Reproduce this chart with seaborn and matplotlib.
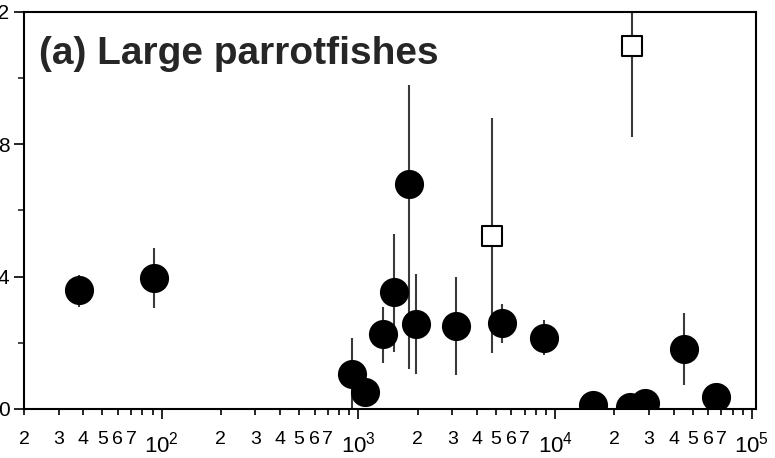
import numpy as np
import pandas as pd
import matplotlib
matplotlib.use("Agg")
import matplotlib.pyplot as plt
import matplotlib.ticker as mticker
import seaborn as sns

# values
x_vals = [38, 92, 930, 1080, 1340, 1520, 1800, 1970, 3140, 4800, 5380, 8800,
          15600, 24000, 28600, 24600, 45200, 65600]
y_vals = [3.6, 3.96, 1.06, 0.51, 2.27, 3.53, 6.8, 2.57, 2.51, 5.23, 2.6, 2.14,
          0.12, 0.06, 0.18, 10.97, 1.81, 0.36]
y_lo = [3.08, 3.05, 0.0, 0.3, 1.39, 1.72, 1.21, 1.06, 1.03, 1.69, 1.99, 1.63,
        0.12, 0.06, 0.18, 8.22, 0.73, 0.36]
y_hi = [4.05, 4.86, 2.15, 0.7, 3.08, 5.29, 9.79, 4.08, 3.99, 8.79, 3.17, 2.69,
        0.12, 0.06, 0.18, 13.0, 2.9, 0.36]
kind = ["closed"] * 9 + ["open"] + ["closed"] * 5 + ["open"] + ["closed"] * 2

df = pd.DataFrame({"x": x_vals, "y": y_vals, "lo": y_lo, "hi": y_hi, "kind": kind})

sns.set_style("ticks")
plt.rcParams["font.family"] = ["Liberation Sans", "DejaVu Sans"]

fig = plt.figure(figsize=(7.75, 4.58), dpi=100)
ax = fig.add_axes([0.031, 0.107, 0.9445, 0.867])

# error bars first, behind markers
ax.vlines(df["x"], df["lo"], df["hi"], color="#3a3a3a", lw=1.5, zorder=1)

closed = df[df["kind"] == "closed"]
opened = df[df["kind"] == "open"]
sns.scatterplot(data=closed, x="x", y="y", marker="o", s=440, color="black",
                edgecolor="black", linewidth=0, ax=ax, zorder=3)
sns.scatterplot(data=opened, x="x", y="y", marker="s", s=220, color="white",
                edgecolor="black", linewidth=1.5, ax=ax, zorder=3)

ax.set_xscale("log")
ax.set_xlim(20, 1.05e5)
ax.set_ylim(0, 12)
ax.set_xlabel("")
ax.set_ylabel("")

ax.xaxis.set_major_locator(mticker.LogLocator(base=10))
ax.xaxis.set_major_formatter(mticker.LogFormatterMathtext())
ax.xaxis.set_minor_locator(mticker.LogLocator(base=10, subs=np.arange(2, 10)))


def minor_fmt(v, pos):
    d = int(round(v / 10 ** np.floor(np.log10(v) + 1e-9)))
    return str(d) if 2 <= d <= 7 else ""


ax.xaxis.set_minor_formatter(mticker.FuncFormatter(minor_fmt))
ax.set_yticks([0, 4, 8, 12])
ax.set_yticks([2, 6, 10], minor=True)

ax.tick_params(axis="x", which="major", length=7, width=1.2, labelsize=16, pad=9, colors="black")
ax.tick_params(axis="x", which="minor", length=4, width=1.2, labelsize=14, pad=12, colors="black")
ax.tick_params(axis="y", which="major", length=7, width=1.2, labelsize=15, colors="black")
ax.tick_params(axis="y", which="minor", length=4, width=1.2)

for sp in ax.spines.values():
    sp.set_visible(True)
    sp.set_linewidth(1.5)
    sp.set_color("black")

ax.text(0.02, 0.895, "(a) Large parrotfishes", transform=ax.transAxes,
        fontsize=28, fontweight="bold", va="center", ha="left")

fig.savefig("out.png", dpi=100)
